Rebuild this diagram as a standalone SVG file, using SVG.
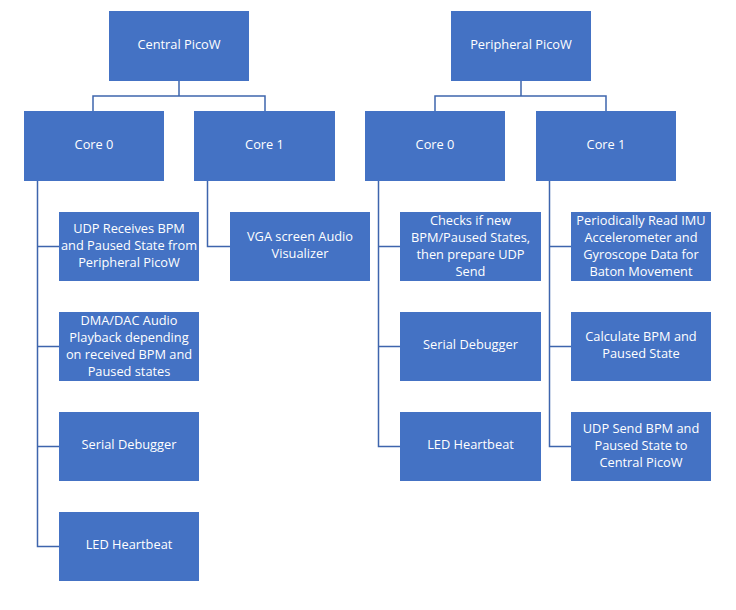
<svg xmlns="http://www.w3.org/2000/svg" width="736" height="610" viewBox="0 0 736 610">
<style>
.box{fill:#4472C4;}
.t{fill:#FFFFFF;font-family:"Open Sans","Noto Sans","DejaVu Sans",sans-serif;font-size:12.8px;text-anchor:middle;}
.c{fill:none;stroke:#3E65AD;stroke-width:1.5;}
</style>
<rect width="736" height="610" fill="#FFFFFF"/>
<g id="connectors">
<path class="c" d="M179,81V96M93,111V96H265V111"/>
<path class="c" d="M37.5,181V546.5H59M37.5,246.5H59M37.5,346.5H59M37.5,446.5H59"/>
<path class="c" d="M207.5,181V246.5H230"/>
<path class="c" d="M521,81V96M435,111V96H606V111"/>
<path class="c" d="M378.5,181V446.5H400M378.5,246.5H400M378.5,346.5H400"/>
<path class="c" d="M549.5,181V446.5H571M549.5,246.5H571M549.5,346.5H571"/>
</g>
<g id="central"><rect class="box" x="109" y="11" width="140" height="70"/><text class="t" x="179" y="49">Central PicoW</text></g>
<g id="c-core0"><rect class="box" x="24" y="111" width="140" height="70"/><text class="t" x="94" y="149">Core 0</text></g>
<g id="c-core1"><rect class="box" x="194" y="111" width="141" height="70"/><text class="t" x="264.5" y="149">Core 1</text></g>
<g id="c-udp"><rect class="box" x="59" y="212" width="140" height="69"/><text class="t" x="129"><tspan x="129" y="233">UDP Receives BPM</tspan><tspan x="129" y="250">and Paused State from</tspan><tspan x="129" y="267">Peripheral PicoW</tspan></text></g>
<g id="c-dma"><rect class="box" x="59" y="312" width="140" height="69"/><text class="t" x="129"><tspan x="129" y="325">DMA/DAC Audio</tspan><tspan x="129" y="342">Playback depending</tspan><tspan x="129" y="359">on received BPM and</tspan><tspan x="129" y="376">Paused states</tspan></text></g>
<g id="c-serial"><rect class="box" x="59" y="412" width="140" height="69"/><text class="t" x="129" y="449">Serial Debugger</text></g>
<g id="c-led"><rect class="box" x="59" y="512" width="140" height="69"/><text class="t" x="129" y="549">LED Heartbeat</text></g>
<g id="c-vga"><rect class="box" x="230" y="212" width="140" height="69"/><text class="t" x="300"><tspan x="300" y="241">VGA screen Audio</tspan><tspan x="300" y="258">Visualizer</tspan></text></g>
<g id="peripheral"><rect class="box" x="451" y="11" width="140" height="70"/><text class="t" x="521" y="49">Peripheral PicoW</text></g>
<g id="p-core0"><rect class="box" x="365" y="111" width="140" height="70"/><text class="t" x="435" y="149">Core 0</text></g>
<g id="p-core1"><rect class="box" x="536" y="111" width="140" height="70"/><text class="t" x="606" y="149">Core 1</text></g>
<g id="p-checks"><rect class="box" x="400" y="212" width="141" height="69"/><text class="t" x="470.5"><tspan x="470.5" y="225">Checks if new</tspan><tspan x="470.5" y="242">BPM/Paused States,</tspan><tspan x="470.5" y="259">then prepare UDP</tspan><tspan x="470.5" y="276">Send</tspan></text></g>
<g id="p-serial"><rect class="box" x="400" y="312" width="141" height="69"/><text class="t" x="470.5" y="349">Serial Debugger</text></g>
<g id="p-led"><rect class="box" x="400" y="412" width="141" height="69"/><text class="t" x="470.5" y="449">LED Heartbeat</text></g>
<g id="p-imu"><rect class="box" x="571" y="212" width="140" height="69"/><text class="t" x="641"><tspan x="641" y="225">Periodically Read IMU</tspan><tspan x="641" y="242">Accelerometer and</tspan><tspan x="641" y="259">Gyroscope Data for</tspan><tspan x="641" y="276">Baton Movement</tspan></text></g>
<g id="p-calc"><rect class="box" x="571" y="312" width="140" height="69"/><text class="t" x="641"><tspan x="641" y="341">Calculate BPM and</tspan><tspan x="641" y="358">Paused State</tspan></text></g>
<g id="p-udp"><rect class="box" x="571" y="412" width="140" height="69"/><text class="t" x="641"><tspan x="641" y="433">UDP Send BPM and</tspan><tspan x="641" y="450">Paused State to</tspan><tspan x="641" y="467">Central PicoW</tspan></text></g>
</svg>
